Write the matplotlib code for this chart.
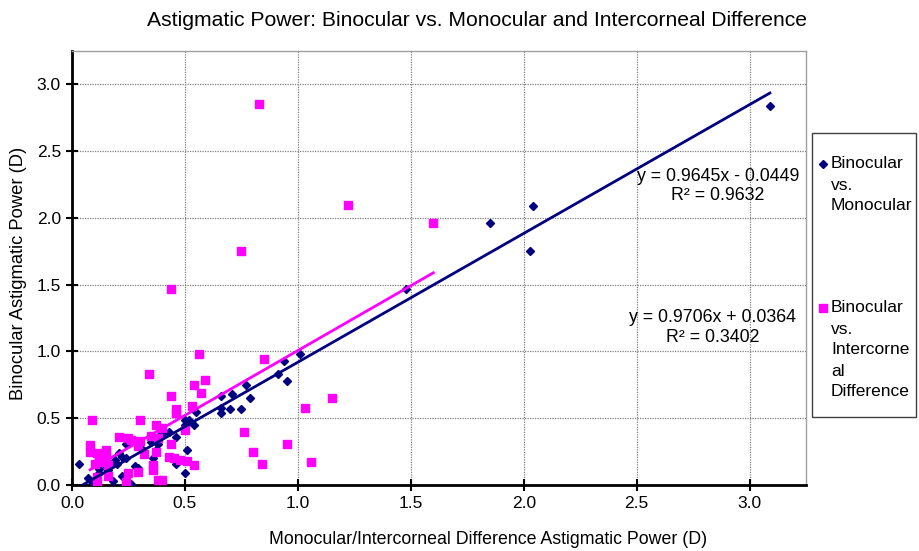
import numpy as np
import matplotlib
matplotlib.use("Agg")
import matplotlib.pyplot as plt
from matplotlib.lines import Line2D
from matplotlib.patches import Rectangle

plt.rcParams['font.family'] = ['Liberation Sans', 'DejaVu Sans']

# ---- data ----
# Binocular vs. Monocular (navy diamonds)
mono_x = [0.03, 0.07, 0.09, 0.12, 0.12, 0.15, 0.16, 0.17, 0.18, 0.19, 0.20, 0.21,
          0.22, 0.22, 0.24, 0.24, 0.26, 0.28, 0.29, 0.29, 0.31, 0.35, 0.36, 0.36,
          0.37, 0.38, 0.38, 0.40, 0.40, 0.43, 0.46, 0.46, 0.50, 0.50, 0.50, 0.51,
          0.52, 0.54, 0.55, 0.66, 0.66, 0.66, 0.70, 0.71, 0.75, 0.77, 0.79, 0.91,
          0.94, 0.95, 1.01, 1.48, 1.85, 2.03, 2.04, 3.09]
mono_y = [0.16, 0.05, 0.02, 0.09, 0.12, 0.14, 0.11, 0.16, 0.03, 0.19, 0.16, 0.24,
          0.07, 0.21, 0.20, 0.31, 0.01, 0.14, 0.13, 0.29, 0.27, 0.32, 0.11, 0.20,
          0.26, 0.31, 0.36, 0.38, 0.40, 0.40, 0.16, 0.36, 0.45, 0.49, 0.09, 0.26,
          0.49, 0.45, 0.55, 0.67, 0.58, 0.54, 0.57, 0.68, 0.57, 0.75, 0.65, 0.83,
          0.93, 0.78, 0.98, 1.47, 1.96, 1.75, 2.09, 2.84]

# Binocular vs. Intercorneal Difference (magenta squares)
icd_x = [0.08, 0.08, 0.09, 0.10, 0.11, 0.11, 0.11, 0.12, 0.12, 0.15, 0.15, 0.16,
         0.16, 0.21, 0.24, 0.25, 0.25, 0.26, 0.29, 0.29, 0.30, 0.30, 0.32, 0.34,
         0.35, 0.36, 0.36, 0.37, 0.37, 0.38, 0.38, 0.40, 0.40, 0.43, 0.44, 0.44,
         0.44, 0.45, 0.46, 0.46, 0.48, 0.50, 0.51, 0.53, 0.54, 0.54, 0.56, 0.57,
         0.59, 0.75, 0.76, 0.80, 0.83, 0.84, 0.85, 0.95, 1.03, 1.06, 1.15, 1.22,
         1.60]
icd_y = [0.30, 0.25, 0.49, 0.16, 0.06, 0.24, 0.02, 0.19, 0.17, 0.26, 0.21, 0.15,
         0.07, 0.36, 0.02, 0.35, 0.09, 0.34, 0.29, 0.10, 0.33, 0.49, 0.23, 0.83,
         0.37, 0.15, 0.11, 0.45, 0.25, 0.35, 0.04, 0.04, 0.43, 0.21, 0.67, 0.31,
         1.47, 0.20, 0.57, 0.54, 0.19, 0.41, 0.18, 0.59, 0.75, 0.15, 0.98, 0.69,
         0.79, 1.75, 0.40, 0.25, 2.85, 0.16, 0.94, 0.31, 0.58, 0.17, 0.65, 2.10,
         1.96]

# trendline coefficients as printed on the chart
fit_labels = [("y = 0.9645x - 0.0449", "R² = 0.9632"),
              ("y = 0.9706x + 0.0364", "R² = 0.3402")]
mono_fit = (0.9645, -0.0449)
icd_fit = (0.9706, 0.0364)

ticks = [0.0, 0.5, 1.0, 1.5, 2.0, 2.5, 3.0]
tick_labels = ["0.0", "0.5", "1.0", "1.5", "2.0", "2.5", "3.0"]

navy = "#000080"
magenta = "#FF00FF"

fig = plt.figure(figsize=(9.2, 5.51), dpi=100)
ax = fig.add_axes([0.0783, 0.1198, 0.7978, 0.7876])

ax.plot(mono_x, mono_y, linestyle="none", marker="D", ms=4.2, color=navy, zorder=3)
ax.plot(icd_x, icd_y, linestyle="none", marker="s", ms=5.8, color=magenta, zorder=3)

# trendlines over the range of each series
lx = np.array([min(mono_x), max(mono_x)])
ax.plot(lx, mono_fit[0] * lx + mono_fit[1], color=navy, lw=2, zorder=4)
lx2 = np.array([min(icd_x), max(icd_x)])
ax.plot(lx2, icd_fit[0] * lx2 + icd_fit[1], color=magenta, lw=2, zorder=4)

ax.text(2.86, 2.24, fit_labels[0][0] + "\n" + fit_labels[0][1], ha="center",
        va="center", fontsize=12.8, linespacing=1.2, zorder=5)
ax.text(2.835, 1.18, fit_labels[1][0] + "\n" + fit_labels[1][1], ha="center",
        va="center", fontsize=12.8, linespacing=1.2, zorder=5)

ax.set_xlim(0, 3.25)
ax.set_ylim(0, 3.25)
ax.set_xticks(ticks)
ax.set_xticklabels(tick_labels)
ax.set_yticks(ticks)
ax.set_yticklabels(tick_labels)
ax.tick_params(direction="inout", length=8, width=1.5, labelsize=12.5, color="black")
ax.tick_params(axis="x", pad=4)
ax.tick_params(axis="y", pad=4)
ax.grid(True, color="#808080", linestyle=(0, (1, 1)), linewidth=0.9)
ax.set_axisbelow(True)

ax.spines["left"].set_linewidth(2)
ax.spines["bottom"].set_linewidth(2)
ax.spines["top"].set_color("#a0a0a0")
ax.spines["right"].set_color("#a0a0a0")
ax.spines["top"].set_linewidth(1)
ax.spines["right"].set_linewidth(1)

ax.set_xlabel("Monocular/Intercorneal Difference Astigmatic Power (D)", fontsize=12.8)
ax.xaxis.set_label_coords((488 - 72) / 734, -(531 - 485) / 434)
ax.set_ylabel("Binocular Astigmatic Power (D)", fontsize=13.2)
ax.yaxis.set_label_coords(-(72 - 27) / 734, (485 - 273) / 434)
fig.text(0.518, 0.962, "Astigmatic Power: Binocular vs. Monocular and Intercorneal Difference",
         ha="center", va="center", fontsize=15.2)

# legend box drawn by hand (wrapped labels, marker on first line)
fig.add_artist(Rectangle((0.8826, 0.2432), 0.1130, 0.5154, transform=fig.transFigure,
                         facecolor="white", edgecolor="#404040", lw=1))
legend_rows = [(navy, "D", 4.2, ["Binocular", "vs.", "Monocular"], 164),
               (magenta, "s", 5.8, ["Binocular", "vs.", "Intercorne", "al", "Difference"], 308)]
for col, mk, ms, lines, ypx in legend_rows:
    fig.add_artist(Line2D([823 / 920], [1 - ypx / 551], transform=fig.transFigure,
                          marker=mk, ms=ms, color=col, linestyle="none"))
    for i, t in enumerate(lines):
        fig.text(831 / 920, 1 - (ypx + i * 21) / 551, t, ha="left", va="center",
                 fontsize=12.5)

fig.savefig("out.png", dpi=100)
